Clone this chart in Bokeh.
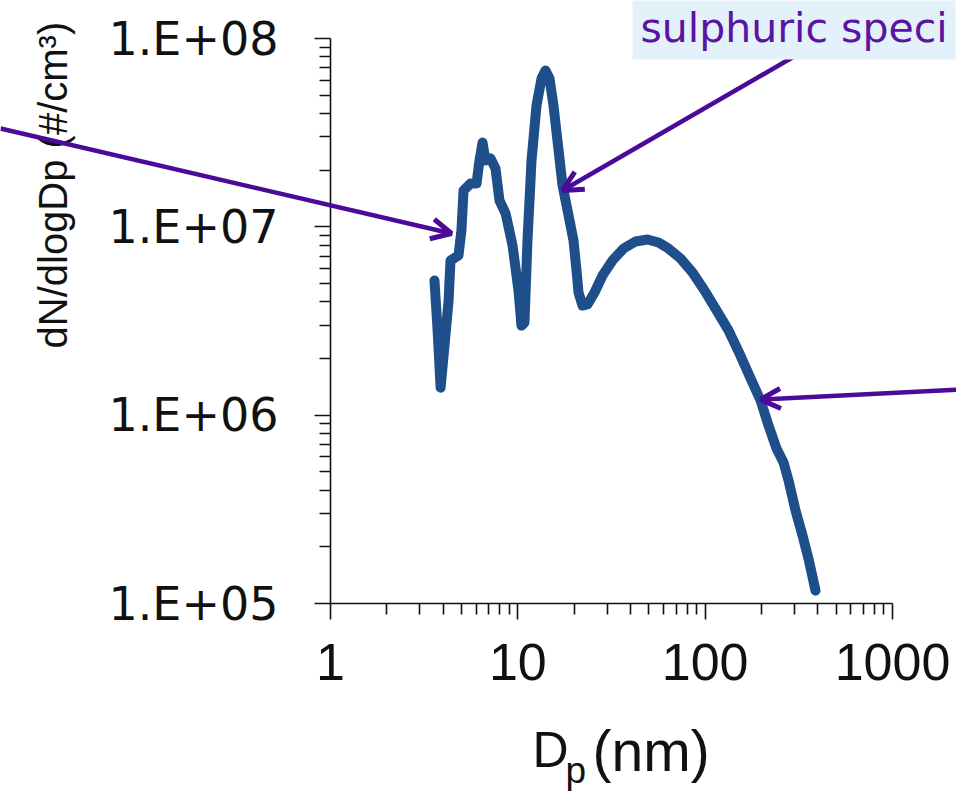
import math

from bokeh.embed import file_html
from bokeh.models import Arrow, FixedTicker, Label, OpenHead
from bokeh.plotting import figure
from bokeh.resources import INLINE

# Particle number size distribution
dp_nm = [3.59, 3.73, 3.87, 4.06, 4.27, 4.37, 4.82, 5.00, 5.13, 5.59, 6.02, 6.24,
         6.48, 6.72, 7.15, 7.60, 7.98, 8.60, 9.37, 10.08, 10.46, 10.85, 11.26,
         11.83, 12.58, 13.38, 14.05, 14.76, 15.50, 16.28, 17.32, 18.65, 19.82,
         20.57, 21.08, 22.14, 23.54, 25.66, 28.31, 32.02, 36.65, 42.47, 49.22,
         56.36, 63.74, 73.87, 85.6, 99.2, 115.0, 133.2, 154.4, 174.6, 197.4,
         217.8, 240.4, 262.0, 278.6, 303.5, 330.8, 356.1, 388.1]
dn_dlogdp = [5.19e6, 2.82e6, 1.40e6, 2.34e6, 4.06e6, 6.63e6, 7.04e6, 9.57e6,
             1.56e7, 1.70e7, 1.70e7, 2.25e7, 2.80e7, 2.25e7, 2.31e7, 2.04e7,
             1.38e7, 1.18e7, 7.96e6, 4.59e6, 2.99e6, 3.10e6, 8.46e6, 2.25e7,
             4.41e7, 6.13e7, 6.76e7, 6.13e7, 4.41e7, 2.87e7, 1.66e7, 1.15e7,
             8.46e6, 5.86e6, 4.48e6, 3.82e6, 3.87e6, 4.48e6, 5.51e6, 6.63e6,
             7.67e6, 8.36e6, 8.57e6, 8.26e6, 7.67e6, 6.79e6, 5.72e6, 4.59e6,
             3.60e6, 2.82e6, 2.07e6, 1.57e6, 1.20e6, 8.82e5, 6.65e5, 5.61e5,
             4.50e5, 3.12e5, 2.30e5, 1.73e5, 1.17e5]

x_major_ticks = [1, 10, 100, 1000]
x_tick_labels = ["1", "10", "100", "1000"]
y_major_ticks = [1e5, 1e6, 1e7, 1e8]
y_tick_labels = ["1.E+05", "1.E+06", "1.E+07", "1.E+08"]

# Canvas geometry (pixels).  The plotting frame fills the whole canvas so the
# call-outs can reach its edges; the axes are pinned inside it.
W, H = 956, 791
AX_LEFT, AX_RIGHT = 330, 892      # x = 1 ... 1000
AX_BOTTOM, AX_TOP = 603, 38       # y = 1e5 ... 1e8
X_LO, X_HI = 1, 1000
Y_LO, Y_HI = 1e5, 1e8

x_dec = (AX_RIGHT - AX_LEFT) / math.log10(X_HI / X_LO)
y_dec = (AX_BOTTOM - AX_TOP) / math.log10(Y_HI / Y_LO)
x_range = (X_LO * 10 ** (-AX_LEFT / x_dec), X_LO * 10 ** ((W - AX_LEFT) / x_dec))
y_range = (Y_LO * 10 ** (-(H - AX_BOTTOM) / y_dec), Y_LO * 10 ** (AX_BOTTOM / y_dec))

CURVE = "#1f4f8b"
PURPLE = "#4b0a98"
TEXT_PURPLE = "#5a14a0"
INK = "#111111"


def at(px, py):
    """Canvas pixel position -> data coordinates on the log/log scales."""
    return X_LO * 10 ** ((px - AX_LEFT) / x_dec), Y_LO * 10 ** ((AX_BOTTOM - py) / y_dec)


p = figure(width=W, height=H, x_axis_type="log", y_axis_type="log",
           x_range=x_range, y_range=y_range,
           min_border=0, min_border_left=0, min_border_right=0,
           min_border_top=0, min_border_bottom=0,
           output_backend="svg", toolbar_location=None,
           background_fill_color="white", border_fill_color="white")
p.outline_line_color = None
p.xgrid.visible = False
p.ygrid.visible = False

x_minor = [m * 10 ** k for k in range(0, 3) for m in range(2, 10)]
y_minor = [m * 10 ** k for k in range(5, 8) for m in range(2, 10)]
p.xaxis.ticker = FixedTicker(ticks=x_major_ticks, minor_ticks=x_minor)
p.yaxis.ticker = FixedTicker(ticks=y_major_ticks, minor_ticks=y_minor)
p.xaxis.major_label_overrides = dict(zip(x_major_ticks, x_tick_labels))
p.yaxis.major_label_overrides = dict(zip(y_major_ticks, y_tick_labels))
p.xaxis.fixed_location = Y_LO
p.yaxis.fixed_location = X_LO
p.xaxis.bounds = (X_LO, X_HI)
p.yaxis.bounds = (Y_LO, Y_HI)

for ax in (p.xaxis[0], p.yaxis[0]):
    ax.axis_line_color = INK
    ax.axis_line_width = 1.6
    ax.major_tick_line_color = INK
    ax.major_tick_line_width = 1.6
    ax.minor_tick_line_color = INK
    ax.minor_tick_line_width = 1.6
    ax.major_tick_in = 0
    ax.minor_tick_in = 0
    ax.major_tick_out = 16
    ax.minor_tick_out = 11
    ax.major_label_text_color = INK

p.yaxis.major_label_text_font = "DejaVu Sans"
p.yaxis.major_label_text_font_size = "46px"
p.yaxis.major_label_standoff = 36
p.xaxis.major_label_text_font = "Liberation Sans"
p.xaxis.major_label_text_font_size = "52px"
p.xaxis.major_label_standoff = 24

p.line(dp_nm, dn_dlogdp, line_width=10, line_color=CURVE,
       line_join="round", line_cap="round")

# axis titles
lx, ly = at(52, 348)
p.add_layout(Label(x=lx, y=ly, text="dN/dlogDp  (#/cm³)", angle=math.pi / 2,
                   text_align="left", text_baseline="middle",
                   text_font="Liberation Sans", text_font_size="40px",
                   text_color=INK))
for text, px, py, size in (("D", 532, 749, "50px"), ("p", 565, 770, "37px"),
                           ("(nm)", 592, 750, "57px")):
    tx, ty = at(px, py)
    p.add_layout(Label(x=tx, y=ty, text=text, text_align="left",
                       text_baseline="middle",
                       text_font="Liberation Sans", text_font_size=size,
                       text_color=INK))

# call-out arrows
for (sx, sy), (ex, ey) in (((0, 128), (451, 233)),
                           ((797, 54), (562, 190)),
                           ((960, 389), (760, 399))):
    x0, y0 = at(sx, sy)
    x1, y1 = at(ex, ey)
    p.add_layout(Arrow(x_start=x0, y_start=y0, x_end=x1, y_end=y1,
                       line_color=PURPLE, line_width=4.5,
                       end=OpenHead(size=20, line_color=PURPLE, line_width=5)))

bx, by = at(632, 27)
p.add_layout(Label(x=bx, y=by, text="sulphuric speci", text_align="left",
                   text_baseline="middle", text_font="DejaVu Sans",
                   text_font_size="41px", text_color=TEXT_PURPLE,
                   background_fill_color="#e2f1fa", padding=8))

open("out.html", "w").write(file_html(p, INLINE))
